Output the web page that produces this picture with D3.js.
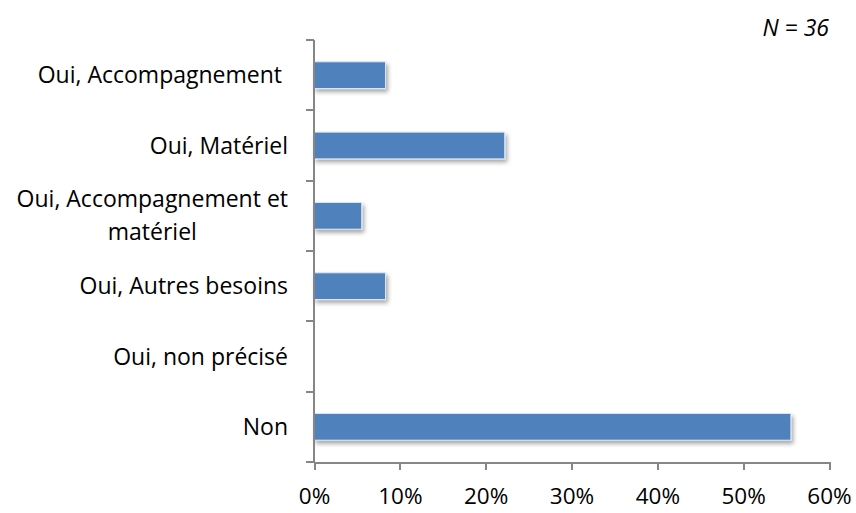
<html>

<head>
    <meta charset="utf-8">
    <title>besoins bar chart</title>
    <style>
        body {
            margin: 0;
            background: #fff;
        }

        text {
            font-family: "Open Sans", sans-serif;
            fill: #000;
        }

        .axis path,
        .axis line {
            fill: none;
            stroke: #868686;
            stroke-width: 2;
            shape-rendering: crispEdges;
        }
    </style>
    <script src="https://cdn.jsdelivr.net/npm/d3@7"></script>
</head>

<body>

</body>
<script>
    // categories top to bottom, lines split where the label wraps
    var categories = ["Oui, Accompagnement ", "Oui, Matériel", "Oui, Accompagnement et|matériel",
        "Oui, Autres besoins", "Oui, non précisé", "Non"];
    var values = [0.0833, 0.2222, 0.0556, 0.0833, 0, 0.5556];
    var xTicks = [0, 0.1, 0.2, 0.3, 0.4, 0.5, 0.6];
    var note = "N = 36";

    var margin = {
            top: 40,
            right: 27,
            bottom: 51,
            left: 314
        },
        width = 856 - margin.left - margin.right,
        height = 513 - margin.top - margin.bottom;

    var x = d3.scaleLinear()
        .domain([0, 0.6])
        .range([0, width]);

    var y = d3.scaleBand()
        .domain(categories)
        .range([0, height])
        .paddingInner(0.62)
        .paddingOuter(0.31);

    var data = categories.map(function(c, i) {
        return { cat: c, value: values[i] };
    });

    var svg = d3.select("body").append("svg")
        .attr("width", 856)
        .attr("height", 513);

    var defs = svg.append("defs");
    var shadow = defs.append("filter")
        .attr("id", "shadow")
        .attr("x", "-10%").attr("y", "-30%")
        .attr("width", "130%").attr("height", "190%");
    shadow.append("feDropShadow")
        .attr("dx", 2)
        .attr("dy", 3)
        .attr("stdDeviation", 2)
        .attr("flood-color", "#000")
        .attr("flood-opacity", 0.35);

    var g = svg.append("g")
        .attr("transform", "translate(" + margin.left + "," + margin.top + ")");

    // bars
    g.selectAll(".bar")
        .data(data.filter(function(d) { return d.value > 0; }))
        .enter()
        .append("rect")
        .attr("class", "bar")
        .attr("x", 0)
        .attr("y", function(d) { return y(d.cat); })
        .attr("height", y.bandwidth())
        .attr("width", function(d) { return x(d.value); })
        .attr("fill", "#4f81bd")
        .attr("stroke", "#dde7f3")
        .attr("stroke-width", 1)
        .attr("filter", "url(#shadow)");

    // x axis
    var xAxis = d3.axisBottom(x)
        .tickValues(xTicks)
        .tickFormat(d3.format(".0%"))
        .tickSizeInner(8)
        .tickSizeOuter(0);

    var gx = g.append("g")
        .attr("class", "axis")
        .attr("transform", "translate(0," + height + ")")
        .call(xAxis);
    gx.selectAll("text")
        .attr("y", 42)
        .attr("dy", null)
        .style("font-size", "22.5px");

    // y axis: line plus ticks at band boundaries
    var step = y.step();
    var bounds = d3.range(categories.length + 1).map(function(i) { return i * step; });
    var gy = g.append("g").attr("class", "axis");
    gy.append("line")
        .attr("x1", 0).attr("x2", 0)
        .attr("y1", 0).attr("y2", height);
    gy.selectAll(".tick")
        .data(bounds)
        .enter()
        .append("line")
        .attr("x1", -8).attr("x2", 0)
        .attr("y1", function(d) { return d; })
        .attr("y2", function(d) { return d; });

    // category labels
    var labels = g.selectAll(".cat")
        .data(categories)
        .enter()
        .append("text")
        .attr("class", "cat")
        .attr("text-anchor", "end")
        .style("font-size", "23px")
        .style("white-space", "pre");

    labels.each(function(d) {
        var t = d3.select(this);
        var lines = d.split("|");
        var cy = y(d) + y.bandwidth() / 2;
        var lh = 33;
        var y0 = cy - (lines.length - 1) * lh / 2 + 8;
        var first = t.append("tspan")
            .attr("x", -26)
            .attr("y", y0)
            .text(lines[0]);
        if (lines.length > 1) {
            // wrapped line is centred under the first one
            var w = first.node().getComputedTextLength();
            t.append("tspan")
                .attr("x", -26 - w / 2)
                .attr("y", y0 + lh)
                .attr("text-anchor", "middle")
                .text(lines[1]);
        }
    });

    svg.append("text")
        .attr("x", 829)
        .attr("y", 36)
        .attr("text-anchor", "end")
        .style("font-size", "23px")
        .style("font-style", "italic")
        .text(note);
</script>

</html>
